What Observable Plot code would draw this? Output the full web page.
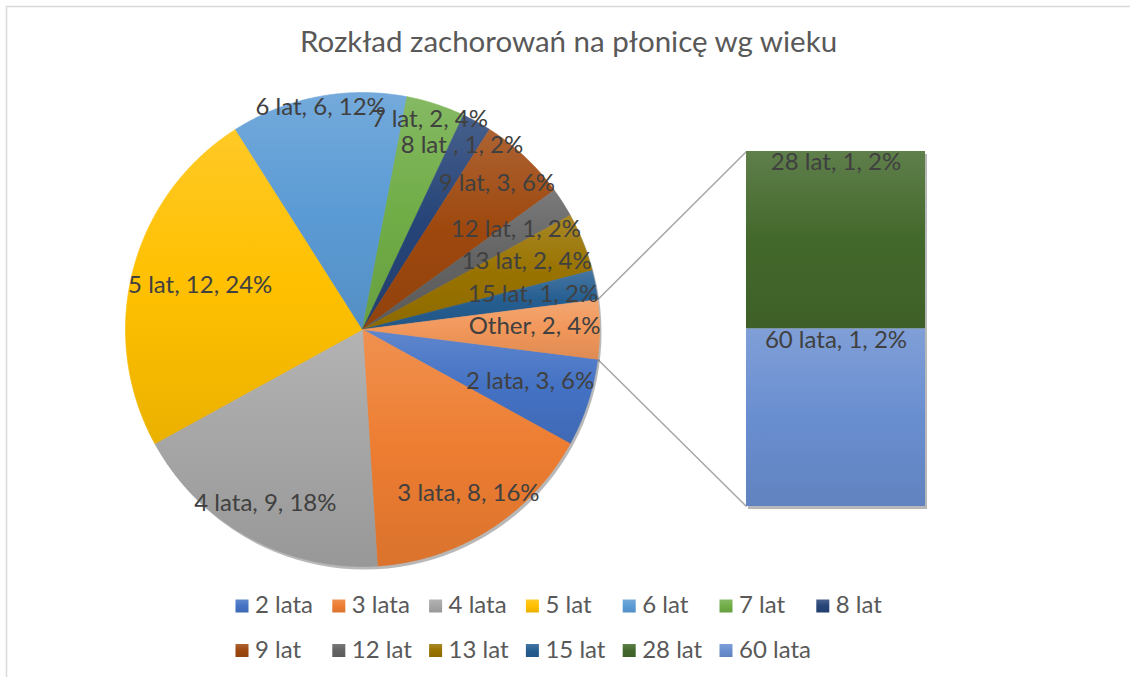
<!DOCTYPE html>
<html>
<head>
<meta charset="utf-8">
<script src="https://cdn.jsdelivr.net/npm/d3@7"></script>
<script src="https://cdn.jsdelivr.net/npm/@observablehq/plot@0.6"></script>
<style>
  html, body { margin: 0; padding: 0; background: #fff; }
</style>
</head>
<body>
<div id="chart"></div>
<script>
// ---------- data ----------
const title = "Rozkład zachorowań na płonicę wg wieku";
const categories = ["2 lata", "3 lata", "4 lata", "5 lat", "6 lat", "7 lat", "8 lat", "9 lat", "12 lat", "13 lat", "15 lat"];
const values = [3, 8, 9, 12, 6, 2, 1, 3, 1, 2, 1];
const labelNames = ["2 lata", "3 lata", "4 lata", "5 lat", "6 lat", "7 lat", "8 lat ", "9 lat", "12 lat", "13 lat", "15 lat"];
const otherName = "Other";
const barCategories = ["28 lat", "60 lata"];
const barValues = [1, 1];
const legendItems = [...categories, ...barCategories];
const baseColors = {
  "2 lata": "#4472C4", "3 lata": "#ED7D31", "4 lata": "#A5A5A5", "5 lat": "#FFC000",
  "6 lat": "#5B9BD5", "7 lat": "#70AD47", "8 lat": "#264478", "9 lat": "#9E480E",
  "12 lat": "#636363", "13 lat": "#997300", "15 lat": "#255E91", "28 lat": "#43682B",
  "60 lata": "#698ED0", "Other": "#F1975A"
};

// ---------- layout ----------
const W = 1130, H = 677;
const cx = 362, cy = 329, R = 237;
const bar = {x0: 746, x1: 925, top: 151, bottom: 506};
const fontFamily = "Lato, 'Open Sans', sans-serif";
const labelSize = 24;
const textColor = "#404040";

const otherValue = d3.sum(barValues);
const total = d3.sum(values) + otherValue;
const rad = d => d * Math.PI / 180;
const pt = (deg, r) => ({x: cx + r * Math.sin(rad(deg)), y: cy - r * Math.cos(rad(deg))});
const gid = k => "g_" + k.replace(/\s+/g, "_");
const url = k => `url(#${gid(k)})`;

// slices: Other centred at 3 o'clock, the rest follow clockwise
const otherDeg = otherValue / total * 360;
const slices = [];
let a = 90 + otherDeg / 2;
categories.forEach((c, i) => {
  const d = values[i] / total * 360;
  slices.push({key: c, label: labelNames[i], value: values[i], start: a, end: a + d});
  a += d;
});
slices.push({key: otherName, label: otherName, value: otherValue, start: 90 - otherDeg / 2, end: 90 + otherDeg / 2});

const slicePoints = s => {
  const out = [pt(0, 0)];
  const n = Math.max(2, Math.ceil((s.end - s.start) / 0.5));
  for (let k = 0; k <= n; k++) out.push(pt(s.start + (s.end - s.start) * k / n, R));
  out.push(pt(0, 0));
  return out;
};

// label positions: "inside end", text box pushed to the rim along the radial direction
const ctx = document.createElement("canvas").getContext("2d");
ctx.font = `${labelSize}px Lato`;
const pct = v => Math.round(v / total * 100) + "%";
const labels = slices.map(s => {
  const text = `${s.label}, ${s.value}, ${pct(s.value)}`;
  const w = ctx.measureText(text).width;
  const mid = (s.start + s.end) / 2;
  const ux = Math.sin(rad(mid)), uy = Math.cos(rad(mid));
  const r = (R + 1) - (Math.abs(ux) * w / 2 + Math.abs(uy) * 2.5);
  return {text, ...pt(mid, r)};
});

// bar of the "Other" slice
const barH = bar.bottom - bar.top;
let acc = 0;
const barData = barCategories.map((c, i) => {
  const y1 = bar.top + acc / otherValue * barH;
  acc += barValues[i];
  const y2 = bar.top + acc / otherValue * barH;
  return {key: c, y1, y2, text: `${c}, ${barValues[i]}, ${pct(barValues[i])}`};
});
const oS = slices[slices.length - 1];
const pA = pt(oS.start, R), pB = pt(oS.end, R);
const links = [
  {x1: pA.x, y1: pA.y, x2: bar.x0, y2: bar.top},
  {x1: pB.x, y1: pB.y, x2: bar.x0, y2: bar.bottom}
];

// legend
const perRow = 7, legX0 = 235.5, legDX = 96.8, legY = [606, 650.5], sw = 13;
const legend = legendItems.map((k, i) => ({
  key: k, x: legX0 + (i % perRow) * legDX, y: legY[Math.floor(i / perRow)]
}));

const plot = Plot.plot({
  width: W, height: H,
  margin: 0,
  x: {type: "linear", domain: [0, W], range: [0, W], axis: null},
  y: {type: "linear", domain: [0, H], range: [0, H], axis: null},
  color: {type: "identity"},
  style: {fontFamily, background: "white", overflow: "visible"},
  marks: [
    Plot.frame({stroke: "#D9D9D9", strokeWidth: 1.5, insetLeft: 6, insetTop: 6, insetRight: -20, insetBottom: -20}),
    Plot.text([title], {x: () => 568, y: () => 42, text: d => d, fontSize: 29.5, fill: "#595959", fontFamily}),
    Plot.link(links, {x1: "x1", y1: "y1", x2: "x2", y2: "y2", stroke: "#A6A6A6", strokeWidth: 1.5}),
    Plot.dot([{x: cx, y: cy}], {x: "x", y: "y", r: R, fill: "#000", fillOpacity: 0.28, stroke: null, dx: 2, dy: 3, ariaLabel: "pieshadow"}),
    ...slices.map(s => Plot.line(slicePoints(s), {x: "x", y: "y", fill: url(s.key), stroke: url(s.key), strokeWidth: 0.6, curve: "linear"})),
    Plot.rect(barData, {x1: () => bar.x0 + 2, x2: () => bar.x1 + 2, y1: d => d.y1 + 3, y2: d => d.y2 + 3, fill: "#000", fillOpacity: 0.28, ariaLabel: "barshadow"}),
    Plot.rect(barData, {x1: () => bar.x0, x2: () => bar.x1, y1: "y1", y2: "y2", fill: d => url(d.key)}),
    Plot.text(labels, {x: "x", y: "y", text: "text", dy: -3, fontSize: labelSize, fill: textColor, fontFamily}),
    Plot.text(barData, {x: () => (bar.x0 + bar.x1) / 2, y: d => d.y1 + 12, text: "text", dy: -1, fontSize: labelSize, fill: textColor, fontFamily}),
    Plot.rect(legend, {x1: d => d.x, x2: d => d.x + sw, y1: d => d.y - sw / 2, y2: d => d.y + sw / 2, fill: d => url(d.key)}),
    Plot.text(legend, {x: d => d.x + sw + 6, y: "y", text: "key", textAnchor: "start", dy: -1, fontSize: labelSize, fill: "#595959", fontFamily})
  ]
});

// gradients and blur for shadows
const svg = d3.select(plot);
const defs = svg.insert("defs", ":first-child");
Object.entries(baseColors).forEach(([k, c]) => {
  const g = defs.append("linearGradient").attr("id", gid(k)).attr("x1", 0).attr("y1", 0).attr("x2", 0).attr("y2", 1);
  g.append("stop").attr("offset", "0%").attr("stop-color", d3.interpolateRgb(c, "#fff")(0.15));
  g.append("stop").attr("offset", "50%").attr("stop-color", c);
  g.append("stop").attr("offset", "100%").attr("stop-color", d3.interpolateRgb(c, "#000")(0.08));
});
const f = defs.append("filter").attr("id", "blur").attr("x", "-20%").attr("y", "-20%").attr("width", "140%").attr("height", "140%");
f.append("feGaussianBlur").attr("stdDeviation", 3);
svg.selectAll('g[aria-label="pieshadow"], g[aria-label="barshadow"]').attr("filter", "url(#blur)");

document.getElementById("chart").appendChild(plot);
</script>
</body>
</html>
